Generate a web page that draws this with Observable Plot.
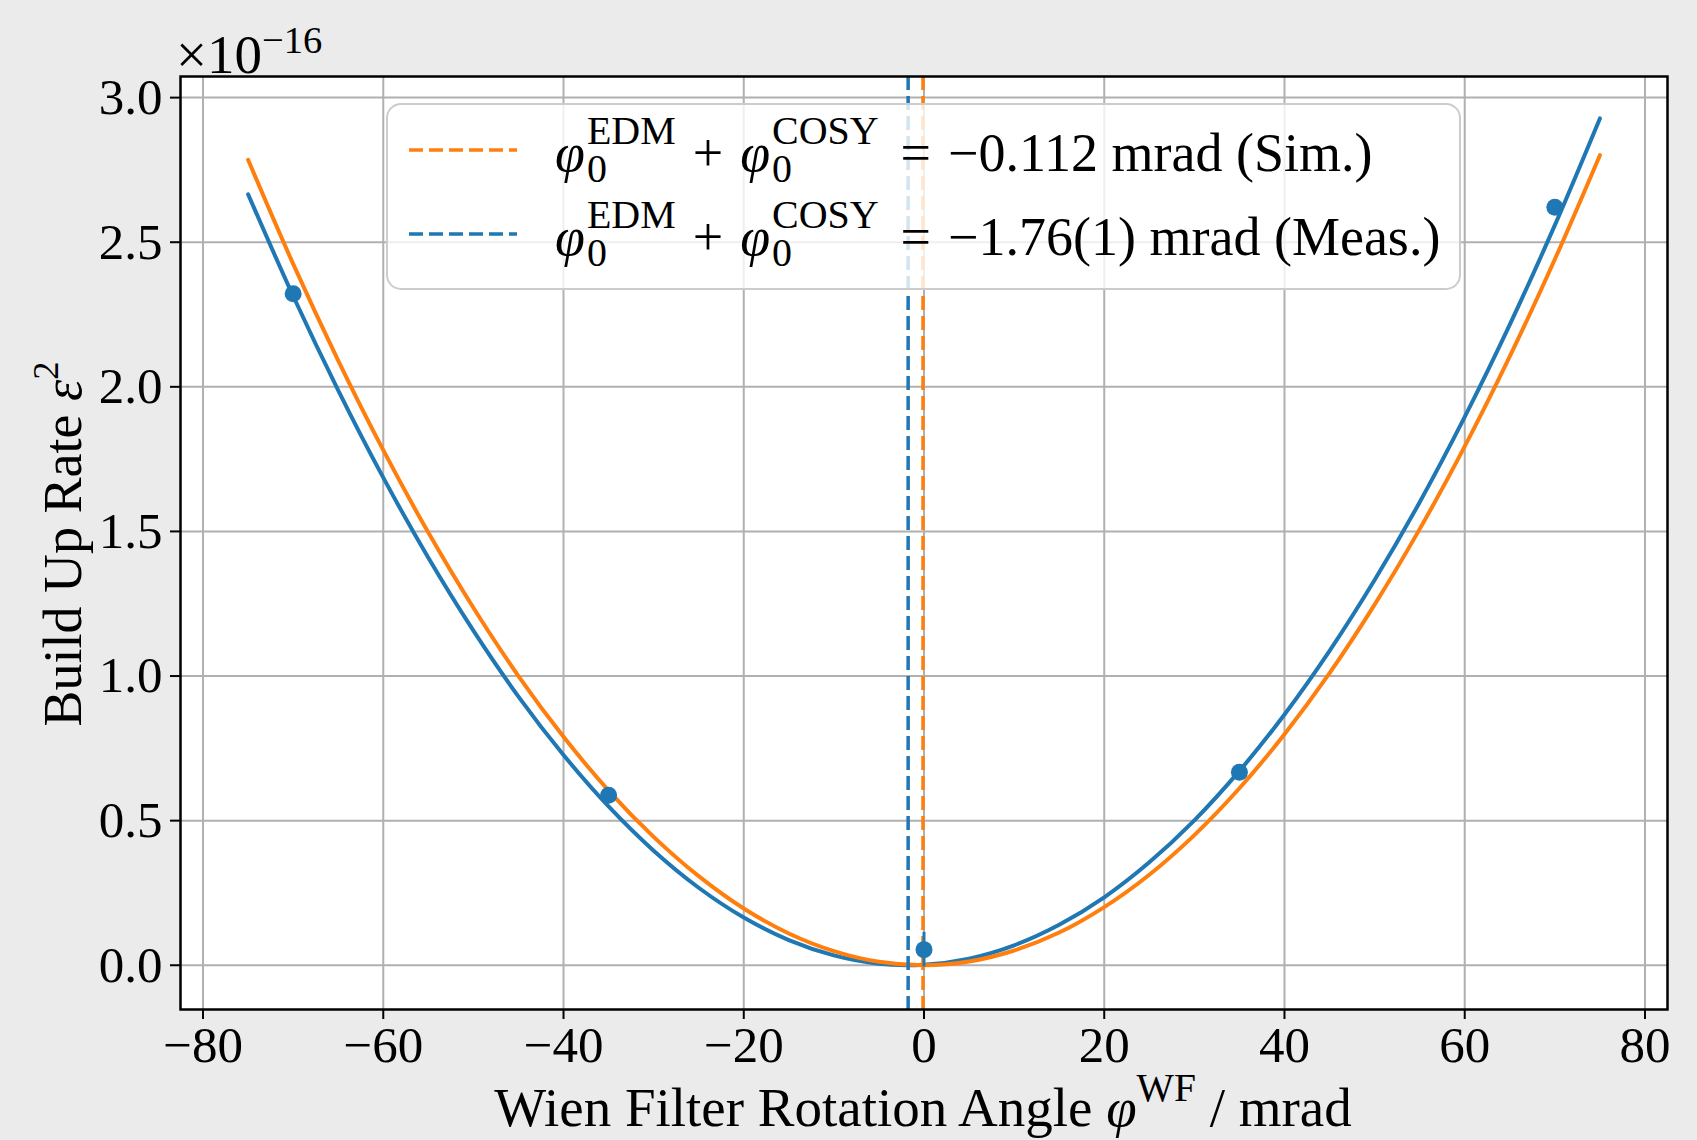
<!DOCTYPE html>
<html><head><meta charset="utf-8">
<script src="https://cdn.jsdelivr.net/npm/d3@7"></script>
<script src="https://cdn.jsdelivr.net/npm/@observablehq/plot@0.6"></script>
<style>html,body{margin:0;padding:0;background:#ebebeb;} svg{display:block}</style>
</head><body><div id="chart"></div>
<script>
// ---- data ----
const xTicks = [-80, -60, -40, -20, 0, 20, 40, 60, 80];
const yTicks = [0, 0.5, 1.0, 1.5, 2.0, 2.5, 3.0];
const angles = [-70, -35, 0, 35, 70];
const rates = [2.322, 0.588, 0.054, 0.667, 2.621];
const rateErr = [0.02, 0.02, 0.06, 0.02, 0.02];
const fitAngles = [-75,-70,-65,-60,-55,-50,-45,-40,-35,-30,-25,-20,-15,-10,-5,0,5,10,15,20,25,30,35,40,45,50,55,60,65,70,75];
const measFit = [2.666,2.314,1.988,1.686,1.409,1.157,0.929,0.727,0.549,0.396,0.268,0.165,0.087,0.034,0.005,0.002,0.023,0.069,0.140,0.235,0.356,0.501,0.672,0.867,1.087,1.332,1.601,1.896,2.215,2.559,2.928];
const simFit = [2.785,2.425,2.091,1.781,1.496,1.236,1.000,0.790,0.604,0.444,0.308,0.196,0.110,0.049,0.012,0.000,0.013,0.051,0.113,0.201,0.313,0.450,0.612,0.799,1.010,1.247,1.508,1.794,2.105,2.441,2.801];
const offsets = [-0.112, -1.76];
const offsetLabels = ["\u22120.112 mrad (Sim.)", "\u22121.76(1) mrad (Meas.)"];
const scaleExponent = "\u221216";

const BLUE = "#1f77b4", ORANGE = "#ff7f0e";
const FONT = "'Liberation Serif', 'Times New Roman', serif";

const plot = Plot.plot({
  width: 1697, height: 1140,
  marginLeft: 180, marginRight: 30, marginTop: 76, marginBottom: 131,
  style: {fontFamily: FONT, background: "#ebebeb", color: "black"},
  x: {domain: [-82.5, 82.5]},
  y: {domain: [-0.153, 3.073]},
  marks: [
    Plot.frame({fill: "white", stroke: null}),
    Plot.gridX(xTicks, {stroke: "#b0b0b0", strokeOpacity: 1, strokeWidth: 2}),
    Plot.gridY(yTicks, {stroke: "#b0b0b0", strokeOpacity: 1, strokeWidth: 2}),
    Plot.line(fitAngles, {x: d => d, y: (d, i) => measFit[i], stroke: BLUE, strokeWidth: 4, curve: "catmull-rom"}),
    Plot.line(fitAngles, {x: d => d, y: (d, i) => simFit[i], stroke: ORANGE, strokeWidth: 4, curve: "catmull-rom"}),
    Plot.ruleX([offsets[1]], {stroke: BLUE, strokeWidth: 3.5, strokeDasharray: "14,6"}),
    Plot.ruleX([offsets[0]], {stroke: ORANGE, strokeWidth: 3.5, strokeDasharray: "14,6"}),
    Plot.ruleX(angles, {x: d => d, y1: (d, i) => rates[i] - rateErr[i], y2: (d, i) => rates[i] + rateErr[i], stroke: BLUE, strokeWidth: 3}),
    Plot.dot(angles, {x: d => d, y: (d, i) => rates[i], r: 8.5, fill: BLUE, stroke: null}),
    Plot.frame({stroke: "black", strokeWidth: 2.5}),
    Plot.axisX(xTicks, {tickSize: 10, tickPadding: 6, fontSize: 51, tickFormat: d3.format("d"), label: null, strokeWidth: 2}),
    Plot.axisY(yTicks, {tickSize: 10, tickPadding: 8, fontSize: 51, tickFormat: d3.format(".1f"), label: null, strokeWidth: 2})
  ]
});
document.getElementById("chart").append(plot);
const svg = d3.select(plot);

function rich(parent, x, y, parts, size, opts = {}) {
  const g = parent.append("g").attr("font-family", FONT).attr("fill", "black").attr("text-anchor", "start");
  const s2 = size * (opts.scriptScale || 0.68);
  let cx = 0;
  for (const p of parts) {
    cx += p.before || 0;
    if (p.t !== undefined) {
      const t = g.append("text").attr("x", cx).attr("y", 0).attr("font-size", size).attr("text-anchor", "start")
        .style("white-space", "pre").attr("font-style", p.italic ? "italic" : null).text(p.t);
      cx += t.node().getComputedTextLength();
    } else {
      let w = 0;
      if (p.sup !== undefined) {
        const t = g.append("text").attr("x", cx).attr("y", -(p.supShift || size * 0.5)).attr("font-size", s2).attr("text-anchor", "start").text(p.sup);
        w = Math.max(w, t.node().getComputedTextLength());
      }
      if (p.sub !== undefined) {
        const t = g.append("text").attr("x", cx + (p.subDx || 0)).attr("y", size * 0.2).attr("font-size", s2).attr("text-anchor", "start").text(p.sub);
        w = Math.max(w, t.node().getComputedTextLength());
      }
      cx += w;
    }
    cx += p.after || 0;
  }
  const dx = opts.center ? -cx / 2 : 0;
  g.attr("transform", `translate(${x},${y})${opts.rotate ? ` rotate(${opts.rotate})` : ""} translate(${dx},0)`);
  return g;
}

// scale exponent
rich(svg, 176, 73, [{t: "\u00d710"}, {sup: scaleExponent, supShift: 20}], 55, {scriptScale: 0.7});

// axis labels
rich(svg, 923, 1126, [{t: "Wien Filter Rotation Angle "}, {t: "\u03c6", italic: true}, {sup: "WF", supShift: 25}, {t: " / mrad"}], 55, {center: true, scriptScale: 0.72});
rich(svg, 81, 544, [{t: "Build Up Rate "}, {t: "\u03b5", italic: true}, {sup: "2", supShift: 23}], 54, {center: true, rotate: -90});

// legend
const lg = svg.append("g");
lg.append("rect").attr("x", 387).attr("y", 104).attr("width", 1073).attr("height", 185).attr("rx", 14)
  .attr("fill", "white").attr("fill-opacity", 0.8).attr("stroke", "#cccccc").attr("stroke-width", 2);
const legendColors = [ORANGE, BLUE];
[0, 1].forEach(i => {
  const base = 171 + i * 84;
  lg.append("line").attr("x1", 409).attr("x2", 517).attr("y1", base - 21).attr("y2", base - 21)
    .attr("stroke", legendColors[i]).attr("stroke-width", 3.5).attr("stroke-dasharray", "14,6");
  rich(lg, 555, base, [
    {t: "\u03c6", italic: true, after: 2}, {sup: "EDM", sub: "0"},
    {t: "+", before: 17, after: 17},
    {t: "\u03c6", italic: true, after: 2}, {sup: "COSY", sub: "0"},
    {t: "=", before: 22, after: 17},
    {t: offsetLabels[i]}
  ], 54, {scriptScale: 0.74});
});
</script></body></html>
